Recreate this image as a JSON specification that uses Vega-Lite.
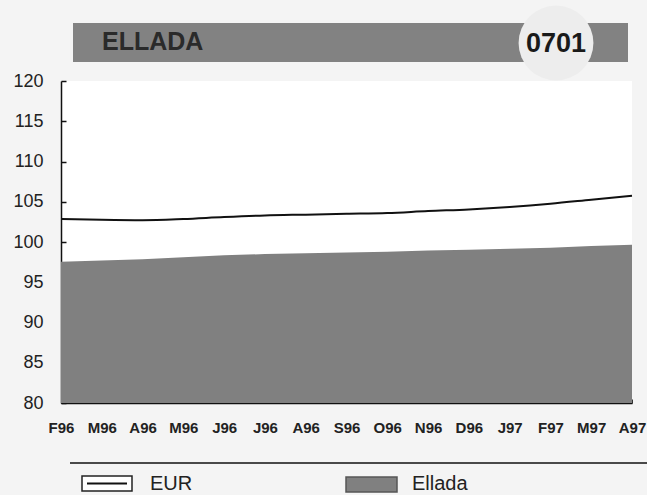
{
  "$schema": "https://vega.github.io/schema/vega-lite/v6.json",
  "background": "#f4f4f4",
  "padding": {"left": 12, "top": 0, "right": 0, "bottom": 0},
  "spacing": 0,
  "bounds": "flush",
  "config": {
    "font": "Liberation Sans",
    "view": {"stroke": null}
  },
  "vconcat": [
    {
      "width": 571,
      "height": 81,
      "data": {"values": [{"country": "ELLADA", "code": "0701"}]},
      "layer": [
        {
          "mark": {"type": "rect", "color": "#828282"},
          "encoding": {
            "x": {"datum": 12, "type": "quantitative", "scale": {"domain": [0, 571], "nice": false, "zero": false}, "axis": null},
            "x2": {"datum": 567},
            "y": {"datum": 23, "type": "quantitative", "scale": {"domain": [0, 81], "nice": false, "zero": false, "reverse": true}, "axis": null},
            "y2": {"datum": 62}
          }
        },
        {
          "mark": {"type": "point", "filled": true, "size": 5600, "color": "#ededed", "opacity": 1},
          "encoding": {
            "x": {"datum": 495, "type": "quantitative"},
            "y": {"datum": 43, "type": "quantitative"}
          }
        },
        {
          "mark": {"type": "text", "align": "left", "baseline": "middle", "fontSize": 25, "fontWeight": "bold", "color": "#2a2a2a"},
          "encoding": {
            "x": {"datum": 41, "type": "quantitative"},
            "y": {"datum": 42, "type": "quantitative"},
            "text": {"field": "country"}
          }
        },
        {
          "mark": {"type": "text", "align": "center", "baseline": "middle", "fontSize": 27, "fontWeight": "bold", "color": "#1a1a1a"},
          "encoding": {
            "x": {"datum": 495, "type": "quantitative"},
            "y": {"datum": 44, "type": "quantitative"},
            "text": {"field": "code"}
          }
        }
      ]
    },
    {
      "width": 571,
      "height": 322,
      "view": {"fill": "#ffffff", "stroke": null},
      "data": {
        "values": [
          {"m": "1996-02", "eur": 102.85, "ellada": 97.55},
          {"m": "1996-03", "eur": 102.75, "ellada": 97.7},
          {"m": "1996-04", "eur": 102.7, "ellada": 97.85},
          {"m": "1996-05", "eur": 102.85, "ellada": 98.1},
          {"m": "1996-06", "eur": 103.1, "ellada": 98.35},
          {"m": "1996-07", "eur": 103.3, "ellada": 98.5},
          {"m": "1996-08", "eur": 103.4, "ellada": 98.6},
          {"m": "1996-09", "eur": 103.5, "ellada": 98.7},
          {"m": "1996-10", "eur": 103.6, "ellada": 98.8},
          {"m": "1996-11", "eur": 103.85, "ellada": 98.95},
          {"m": "1996-12", "eur": 104.05, "ellada": 99.05},
          {"m": "1997-01", "eur": 104.35, "ellada": 99.15},
          {"m": "1997-02", "eur": 104.75, "ellada": 99.3},
          {"m": "1997-03", "eur": 105.25, "ellada": 99.5},
          {"m": "1997-04", "eur": 105.75, "ellada": 99.65}
        ]
      },
      "encoding": {
        "x": {
          "field": "m",
          "type": "ordinal",
          "sort": null,
          "scale": {"type": "point", "padding": 0},
          "axis": {
            "title": null,
            "labelAngle": 0,
            "labelExpr": "['J','F','M','A','M','J','J','A','S','O','N','D'][toNumber(substring(datum.value,5,7))-1] + substring(datum.value,2,4)",
            "labelFont": "Liberation Sans",
            "labelFontSize": 15,
            "labelFontWeight": "bold",
            "labelColor": "#222222",
            "labelPadding": 21,
            "tickSize": -4,
            "tickColor": "#333333",
            "domainColor": "#111111",
            "domainWidth": 1.5,
            "grid": false
          }
        }
      },
      "layer": [
        {
          "mark": {"type": "area", "color": "#808080", "opacity": 1},
          "encoding": {
            "y": {
              "field": "ellada",
              "type": "quantitative",
              "scale": {"domain": [80, 120], "zero": false, "nice": false},
              "axis": {
                "title": null,
                "values": [80, 85, 90, 95, 100, 105, 110, 115, 120],
                "labelFont": "Liberation Sans",
                "labelFontSize": 18,
                "labelColor": "#222222",
                "labelPadding": 23,
                "tickSize": -5,
                "tickColor": "#111111",
                "tickWidth": 1.5,
                "domainColor": "#111111",
                "domainWidth": 1.5,
                "grid": false
              }
            },
            "y2": {"datum": 80}
          }
        },
        {
          "mark": {"type": "line", "color": "#111111", "strokeWidth": 2, "interpolate": "monotone"},
          "encoding": {
            "y": {"field": "eur", "type": "quantitative"}
          }
        }
      ]
    },
    {
      "width": 571,
      "height": 92,
      "layer": [
        {
          "data": {"values": [{"k": 1}]},
          "mark": {"type": "rule", "color": "#111111", "strokeWidth": 1.5},
          "encoding": {
            "x": {"datum": 9, "type": "quantitative", "scale": {"domain": [0, 571], "nice": false, "zero": false}, "axis": null},
            "x2": {"datum": 592},
            "y": {"datum": 60, "type": "quantitative", "scale": {"domain": [0, 92], "nice": false, "zero": false, "reverse": true}, "axis": null}
          }
        },
        {
          "data": {"values": [{"series": "EUR"}]},
          "mark": {"type": "rect", "fill": "#ffffff", "stroke": "#222222", "strokeWidth": 1.5},
          "encoding": {
            "x": {"datum": 21, "type": "quantitative"},
            "x2": {"datum": 71},
            "y": {"datum": 73, "type": "quantitative"},
            "y2": {"datum": 88}
          }
        },
        {
          "data": {"values": [{"series": "EUR"}]},
          "mark": {"type": "rule", "color": "#111111", "strokeWidth": 2},
          "encoding": {
            "x": {"datum": 26, "type": "quantitative"},
            "x2": {"datum": 66},
            "y": {"datum": 80.5, "type": "quantitative"}
          }
        },
        {
          "data": {"values": [{"series": "EUR"}]},
          "mark": {"type": "text", "align": "left", "baseline": "middle", "fontSize": 20, "color": "#222222"},
          "encoding": {
            "x": {"datum": 89, "type": "quantitative"},
            "y": {"datum": 81, "type": "quantitative"},
            "text": {"field": "series"}
          }
        },
        {
          "data": {"values": [{"series": "Ellada"}]},
          "mark": {"type": "rect", "fill": "#808080", "stroke": "#555555", "strokeWidth": 1.5},
          "encoding": {
            "x": {"datum": 285, "type": "quantitative"},
            "x2": {"datum": 336},
            "y": {"datum": 74, "type": "quantitative"},
            "y2": {"datum": 89}
          }
        },
        {
          "data": {"values": [{"series": "Ellada"}]},
          "mark": {"type": "text", "align": "left", "baseline": "middle", "fontSize": 20, "color": "#222222"},
          "encoding": {
            "x": {"datum": 351, "type": "quantitative"},
            "y": {"datum": 81, "type": "quantitative"},
            "text": {"field": "series"}
          }
        }
      ]
    }
  ]
}
